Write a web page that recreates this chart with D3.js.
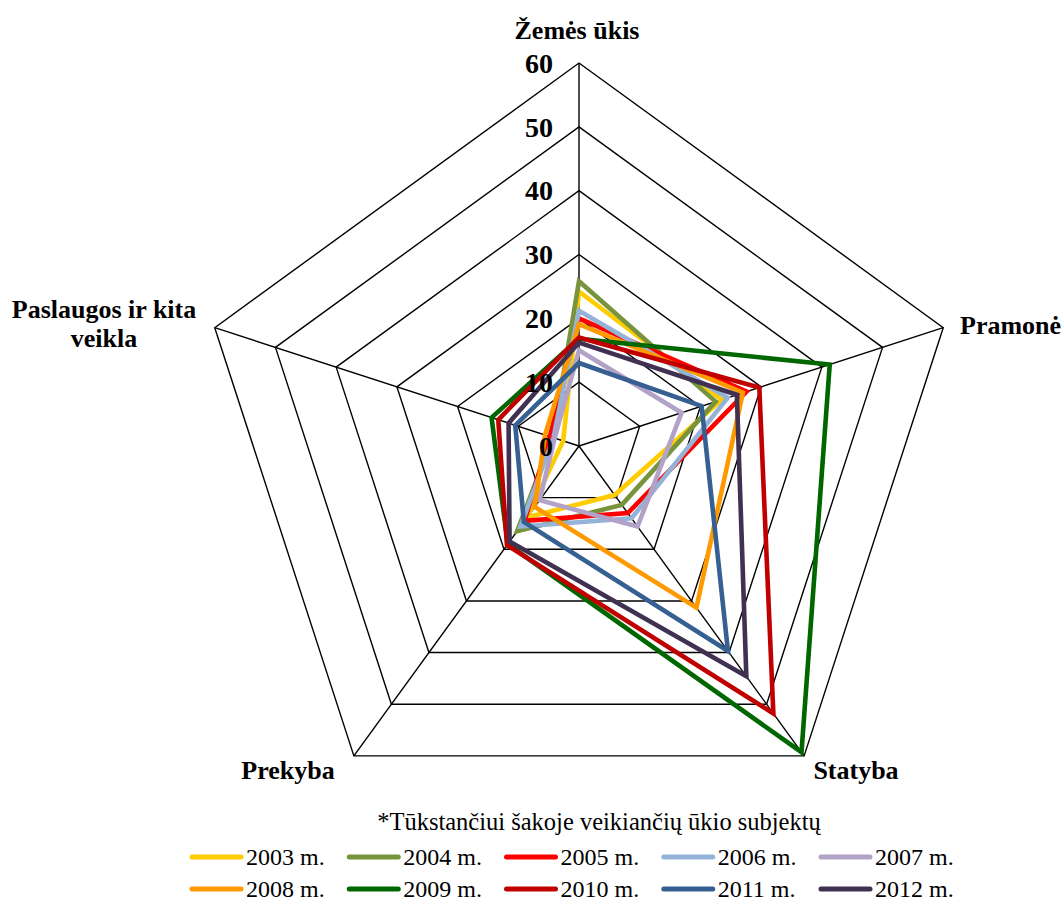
<!DOCTYPE html>
<html>
<head>
<meta charset="utf-8">
<script src="https://cdn.jsdelivr.net/npm/d3@7"></script>
<style>
  html, body { margin: 0; padding: 0; background: #fff; }
  svg { display: block; }
  text { font-family: "Liberation Serif", "Times New Roman", serif; fill: #000; }
</style>
</head>
<body>
<svg id="chart" width="1064" height="903"></svg>
<script>
// Sector axes, clockwise from the top
const categories = ["Žemės ūkis", "Pramonė", "Statyba", "Prekyba", "Paslaugos ir kita veikla"];
const years = ["2003 m.", "2004 m.", "2005 m.", "2006 m.", "2007 m.", "2008 m.", "2009 m.", "2010 m.", "2011 m.", "2012 m."];
const tickValues = [0, 10, 20, 30, 40, 50, 60];

// Values per sector (same order as categories), one array per year
const y2003 = [24.2, 23.5, 9.5, 13.8, 2.6];
const y2004 = [25.8, 22.5, 11.4, 16.5, 4.3];
const y2005 = [20.0, 27.6, 13.0, 14.5, 4.8];
const y2006 = [21.2, 24.5, 14.0, 15.6, 4.2];
const y2007 = [15.0, 16.9, 15.6, 10.5, 4.0];
const y2008 = [19.1, 27.0, 31.3, 11.8, 5.6];
const y2009 = [16.8, 41.3, 59.3, 19.0, 14.4];
const y2010 = [17.0, 29.7, 51.8, 19.2, 13.3];
const y2011 = [13.0, 20.2, 39.7, 14.7, 10.5];
const y2012 = [16.2, 26.0, 44.6, 18.5, 11.6];
const seriesValues = [y2003, y2004, y2005, y2006, y2007, y2008, y2009, y2010, y2011, y2012];
const colors = ["#FFCC00", "#77933C", "#FF0000", "#95B3D7", "#B3A2C7", "#FF9900", "#006600", "#C00000", "#376092", "#403152"];

const svg = d3.select("#chart");
const cx = 579, cy = 446, R = 383;

const r = d3.scaleLinear().domain([0, 60]).range([0, R]);
const angle = d3.scalePoint().domain(d3.range(categories.length)).range([0, 2 * Math.PI * (categories.length - 1) / categories.length]);

const plot = svg.append("g").attr("transform", `translate(${cx},${cy})`);

// Polar helper: angle measured clockwise from 12 o'clock
const pt = (i, v) => [Math.sin(angle(i)) * r(v), -Math.cos(angle(i)) * r(v)];

// Pentagonal grid rings
const ring = d3.lineRadial().angle((d, i) => angle(i)).radius(d => r(d)).curve(d3.curveLinearClosed);
plot.selectAll("path.grid")
  .data(tickValues.filter(t => t > 0))
  .join("path")
  .attr("class", "grid")
  .attr("d", t => ring(categories.map(() => t)))
  .attr("fill", "none")
  .attr("stroke", "#000")
  .attr("stroke-width", 1.4);

// Spokes
plot.selectAll("line.spoke")
  .data(categories)
  .join("line")
  .attr("class", "spoke")
  .attr("x1", 0).attr("y1", 0)
  .attr("x2", (d, i) => pt(i, 60)[0])
  .attr("y2", (d, i) => pt(i, 60)[1])
  .attr("stroke", "#000")
  .attr("stroke-width", 1.4);

// Series polygons
const seriesLine = d3.lineRadial()
  .angle((d, i) => angle(i))
  .radius(d => r(d))
  .curve(d3.curveLinearClosed);

plot.selectAll("path.series")
  .data(seriesValues)
  .join("path")
  .attr("class", "series")
  .attr("d", d => seriesLine(d))
  .attr("fill", "none")
  .attr("stroke", (d, i) => colors[i])
  .attr("stroke-width", 4.6)
  .attr("stroke-linejoin", "miter");

// Value labels on the vertical axis
plot.selectAll("text.tick")
  .data(tickValues)
  .join("text")
  .attr("class", "tick")
  .attr("x", -26)
  .attr("y", t => -r(t))
  .attr("dy", "0.35em")
  .attr("text-anchor", "end")
  .attr("font-size", 28)
  .attr("font-weight", "bold")
  .text(t => t);

// Category labels
const labelPos = [
  { x: 577, y: 39, anchor: "middle", lines: ["Žemės ūkis"] },
  { x: 960, y: 334, anchor: "start", lines: ["Pramonė"] },
  { x: 856, y: 779, anchor: "middle", lines: ["Statyba"] },
  { x: 288, y: 779, anchor: "middle", lines: ["Prekyba"] },
  { x: 104, y: 318, anchor: "middle", lines: ["Paslaugos ir kita", "veikla"] }
];
const catLabels = svg.selectAll("text.cat")
  .data(categories)
  .join("text")
  .attr("class", "cat")
  .attr("x", (d, i) => labelPos[i].x)
  .attr("y", (d, i) => labelPos[i].y)
  .attr("text-anchor", (d, i) => labelPos[i].anchor)
  .attr("font-size", 26)
  .attr("font-weight", "bold");
catLabels.each(function(d, i) {
  d3.select(this).selectAll("tspan")
    .data(labelPos[i].lines)
    .join("tspan")
    .attr("x", labelPos[i].x)
    .attr("dy", (s, j) => j === 0 ? 0 : 29)
    .text(s => s);
});

// Footnote
svg.append("text")
  .attr("x", 599)
  .attr("y", 830)
  .attr("text-anchor", "middle")
  .attr("font-size", 24.5)
  .text("*Tūkstančiui šakoje veikiančių ūkio subjektų");

// Legend: two rows of five
const legendX = d3.scaleLinear().domain([0, 4]).range([190, 819]);
const legendRowY = [857, 889];
const legend = svg.selectAll("g.legend")
  .data(years)
  .join("g")
  .attr("class", "legend")
  .attr("transform", (d, i) => `translate(${legendX(i % 5)},${legendRowY[Math.floor(i / 5)]})`);
legend.append("line")
  .attr("x1", 2).attr("x2", 51)
  .attr("y1", 0).attr("y2", 0)
  .attr("stroke", (d, i) => colors[i])
  .attr("stroke-width", 5)
  .attr("stroke-linecap", "round");
legend.append("text")
  .attr("x", 56)
  .attr("y", 0)
  .attr("dy", "0.35em")
  .attr("font-size", 24)
  .text(d => d);
</script>
</body>
</html>
